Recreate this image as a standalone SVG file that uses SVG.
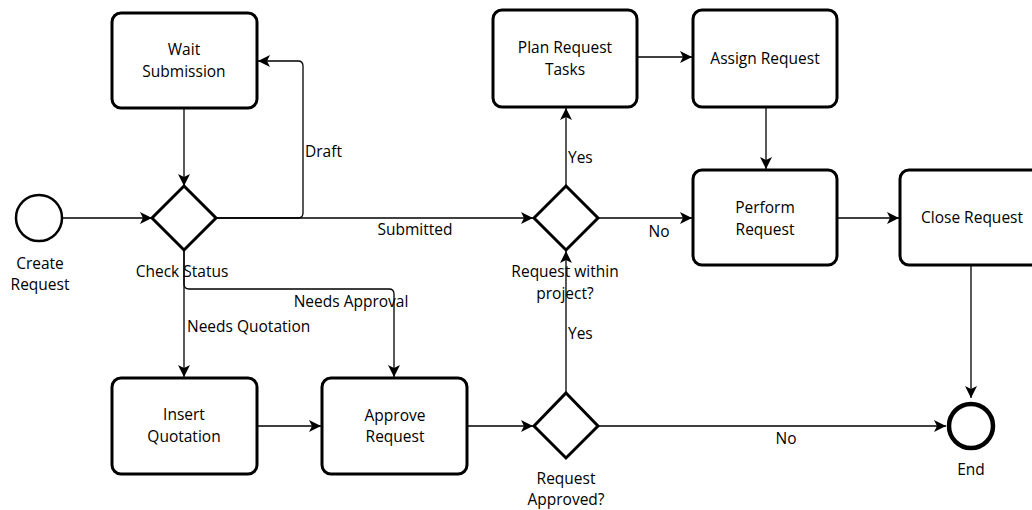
<svg xmlns="http://www.w3.org/2000/svg" width="1032" height="510" viewBox="0 0 1032 510">
<style>
.task{fill:#fff;stroke:#000;stroke-width:3}
.gw{fill:#fff;stroke:#000;stroke-width:3}
.ev{fill:#fff;stroke:#000}
.c{fill:none;stroke:#000;stroke-width:1.3}
text{font-family:"Open Sans","Noto Sans","DejaVu Sans",sans-serif;font-size:15.5px;fill:#000}
.m{text-anchor:middle}
</style>
<defs>
<marker id="arr" markerUnits="userSpaceOnUse" markerWidth="14" markerHeight="14" refX="12" refY="6" orient="auto">
<path d="M0,0 L12,6 L0,12 L3,6 Z" fill="#000"/>
</marker>
</defs>
<rect width="1032" height="510" fill="#fff"/>
<g id="connectors">
<path class="c" d="M63,218 L152,218" marker-end="url(#arr)"/>
<path class="c" d="M184,108 L184,186" marker-end="url(#arr)"/>
<path class="c" d="M216,218 L298,218 Q303,218 303,213 L303,66 Q303,61 298,61 L258,61" marker-end="url(#arr)"/>
<path class="c" d="M216,218 L533,218" marker-end="url(#arr)"/>
<path class="c" d="M184,250 L184,377" marker-end="url(#arr)"/>
<path class="c" d="M184,250 L184,284 Q184,289 189,289 L389,289 Q394,289 394,294 L394,377" marker-end="url(#arr)"/>
<path class="c" d="M566,186 L566,108" marker-end="url(#arr)"/>
<path class="c" d="M637,57 L692,57" marker-end="url(#arr)"/>
<path class="c" d="M766,107 L766,169" marker-end="url(#arr)"/>
<path class="c" d="M598,218 L692,218" marker-end="url(#arr)"/>
<path class="c" d="M837,218 L899,218" marker-end="url(#arr)"/>
<path class="c" d="M971,265 L971,398" marker-end="url(#arr)"/>
<path class="c" d="M257,426 L321,426" marker-end="url(#arr)"/>
<path class="c" d="M467,426 L533,426" marker-end="url(#arr)"/>
<path class="c" d="M566,393 L566,251" marker-end="url(#arr)"/>
<path class="c" d="M598,426 L946,426" marker-end="url(#arr)"/>
<text x="305" y="157">Draft</text>
<text class="m" x="415" y="235">Submitted</text>
<text x="187" y="332">Needs Quotation</text>
<text class="m" x="351" y="307">Needs Approval</text>
<text x="568" y="163">Yes</text>
<text class="m" x="659" y="237">No</text>
<text x="568" y="339">Yes</text>
<text class="m" x="786" y="444">No</text>
</g>
<g id="create-request">
<circle class="ev" cx="39" cy="218" r="23" stroke-width="2.5"/>
<text class="m" x="40" y="269">Create</text>
<text class="m" x="40" y="290">Request</text>
</g>
<g id="wait-submission">
<rect class="task" x="112" y="13" width="145" height="95" rx="9"/>
<text class="m" x="184" y="55">Wait</text>
<text class="m" x="184" y="77">Submission</text>
</g>
<g id="check-status">
<polygon class="gw" points="184,186 216,218 184,250 152,218"/>
<text class="m" x="182" y="277">Check Status</text>
</g>
<g id="request-within-project">
<polygon class="gw" points="566,186 598,218 566,250 534,218"/>
<text class="m" x="565" y="277">Request within</text>
<text class="m" x="565" y="299">project?</text>
</g>
<g id="plan-request-tasks">
<rect class="task" x="493" y="10" width="144" height="97" rx="9"/>
<text class="m" x="565" y="53">Plan Request</text>
<text class="m" x="565" y="75">Tasks</text>
</g>
<g id="assign-request">
<rect class="task" x="693" y="10" width="144" height="97" rx="9"/>
<text class="m" x="765" y="64">Assign Request</text>
</g>
<g id="perform-request">
<rect class="task" x="693" y="170" width="144" height="95" rx="9"/>
<text class="m" x="765" y="213">Perform</text>
<text class="m" x="765" y="235">Request</text>
</g>
<g id="close-request">
<rect class="task" x="900" y="170" width="144" height="95" rx="9"/>
<text class="m" x="972" y="223">Close Request</text>
</g>
<g id="insert-quotation">
<rect class="task" x="112" y="378" width="145" height="96" rx="9"/>
<text class="m" x="184" y="420">Insert</text>
<text class="m" x="184" y="442">Quotation</text>
</g>
<g id="approve-request">
<rect class="task" x="322" y="378" width="145" height="96" rx="9"/>
<text class="m" x="395" y="421">Approve</text>
<text class="m" x="395" y="442">Request</text>
</g>
<g id="request-approved">
<polygon class="gw" points="566,393 598,426 566,458 534,426"/>
<text class="m" x="566" y="484">Request</text>
<text class="m" x="566" y="505">Approved?</text>
</g>
<g id="end">
<circle class="ev" cx="971" cy="426" r="22" stroke-width="4.5"/>
<text class="m" x="971" y="475">End</text>
</g>
</svg>
